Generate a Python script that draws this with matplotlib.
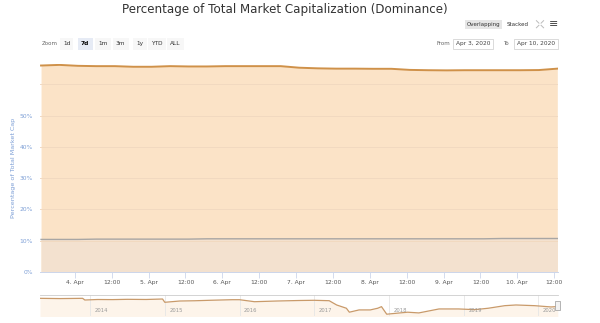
import pandas as pd
import matplotlib
matplotlib.use("Agg")
from matplotlib import pyplot as plt
from matplotlib.patches import Rectangle
from matplotlib.lines import Line2D

plt.rcParams['font.family'] = ['DejaVu Sans']

# main chart: 6-hourly dominance, Apr 3 13:00 .. Apr 10 13:00
times = pd.date_range('2020-04-03 13:00', periods=29, freq='6h')
btc = [66.0, 66.2, 65.9, 65.8, 65.8, 65.6, 65.6, 65.8, 65.7, 65.7,
       65.8, 65.8, 65.8, 65.8, 65.3, 65.1, 65.0, 65.0, 64.95, 64.95,
       64.6, 64.5, 64.45, 64.5, 64.5, 64.5, 64.5, 64.55, 65.0]
eth = [10.4, 10.4, 10.4, 10.5, 10.5, 10.5, 10.5, 10.5, 10.5, 10.6,
       10.6, 10.6, 10.6, 10.6, 10.6, 10.6, 10.6, 10.6, 10.6, 10.6,
       10.6, 10.6, 10.6, 10.6, 10.6, 10.7, 10.7, 10.7, 10.7]
y_ticks = [0, 10, 20, 30, 40, 50]

# navigator: whole history (decimal years)
nav_years = [2013.33, 2013.6, 2013.9, 2013.93, 2014.1, 2014.3, 2014.5, 2014.75, 2014.97,
             2015.0, 2015.2, 2015.4, 2015.6, 2015.9, 2016.0, 2016.2, 2016.5, 2016.8,
             2017.0, 2017.2, 2017.3, 2017.43, 2017.47, 2017.6, 2017.75, 2017.85,
             2017.9, 2017.97, 2018.05, 2018.25, 2018.4, 2018.67, 2018.93, 2019.15,
             2019.33, 2019.55, 2019.7, 2019.95, 2020.17, 2020.26]
nav_dom = [95.0, 94.0, 95.0, 88.4, 90.4, 90.0, 91.1, 90.5, 92.3,
           79.5, 84.5, 85.5, 87.3, 89.6, 89.6, 81.8, 84.5, 86.5,
           87.3, 85.7, 69.0, 56.3, 40.8, 49.7, 49.7, 56.3,
           62.5, 33.0, 35.3, 40.8, 38.0, 53.5, 53.5, 50.8,
           56.3, 66.3, 69.0, 66.3, 61.3, 63.0]
nav_ticks = [2014, 2015, 2016, 2017, 2018, 2019, 2020]

fig = plt.figure(figsize=(6, 3.23), dpi=100)

ax = fig.add_axes([0.0667, 0.158, 0.863, 0.644])
ax.fill_between(times, btc, color='#fbe3c7', lw=0, zorder=1)
ax.fill_between(times, eth, color='#f3e1cf', lw=0, zorder=1.1)
for v in y_ticks[1:] + [60]:
    ax.axhline(v, color='#f1d9c0', lw=0.7, zorder=1.5)
ax.plot(times, btc, color='#cf9149', lw=1.4, zorder=3)
ax.plot(times, eth, color='#a8a6a4', lw=1.0, zorder=3)

ax.set_ylim(0, 66.5)
ax.set_xlim(pd.Timestamp('2020-04-03 12:40'), pd.Timestamp('2020-04-10 13:10'))
ax.set_yticks(y_ticks)
ax.set_yticklabels([f'{v}%' for v in y_ticks])
xt = pd.date_range('2020-04-04 00:00', '2020-04-10 12:00', freq='12h')
ax.set_xticks(xt)
ax.set_xticklabels([f'{t.day}. Apr' if t.hour == 0 else '12:00' for t in xt])
for s in ['top', 'right', 'left']:
    ax.spines[s].set_visible(False)
ax.spines['bottom'].set_color('#ccd6eb')
ax.spines['bottom'].set_linewidth(0.7)
ax.tick_params(axis='y', length=0, labelsize=4.3, labelcolor='#7d9fd6', pad=5)
ax.tick_params(axis='x', length=4, width=0.6, color='#ccd6eb', labelsize=4.3,
               labelcolor='#555555', pad=2)
ax.set_ylabel('Percentage of Total Market Cap', fontsize=4.6, color='#7d9fd6', labelpad=3)

# navigator
nav = fig.add_axes([0.0667, 0.0217, 0.863, 0.065])
nav.fill_between(nav_years, nav_dom, 0, color='#fdf4ea', lw=0)
nav.plot(nav_years, nav_dom, color='#c99a6a', lw=0.9)
nav.set_xlim(2013.33, 2020.26)
nav.set_ylim(26, 108)
nav.set_xticks(nav_ticks)
nav.set_xticklabels([])
nav.tick_params(length=0)
nav.set_yticks([])
nav.grid(axis='x', color='#e6e6e6', lw=0.6)
for yr in nav_ticks:
    nav.text(yr + 0.06, 0.12, str(yr), transform=nav.get_xaxis_transform(),
             fontsize=3.8, color='#999999', ha='left', va='bottom')
for s in ['right', 'left', 'bottom']:
    nav.spines[s].set_visible(False)
nav.spines['top'].set_color('#cccccc')
nav.spines['top'].set_linewidth(0.6)
nav.add_patch(Rectangle((0.994, 0.3), 0.01, 0.42, transform=nav.transAxes,
                        fc='#f2f2f2', ec='#999999', lw=0.5, clip_on=False, zorder=5))

# title and controls
fig.text(0.475, 0.972, 'Percentage of Total Market Capitalization (Dominance)',
         ha='center', va='center', fontsize=8.6, color='#333333')
fig.text(0.069, 0.864, 'Zoom', fontsize=4, color='#666666', va='center')
btns = ['1d', '7d', '1m', '3m', '1y', 'YTD', 'ALL']
bx = [0.111, 0.142, 0.172, 0.201, 0.233, 0.262, 0.292]
for b, x in zip(btns, bx):
    sel = b == '7d'
    fig.text(x, 0.864, b, fontsize=4.2, ha='center', va='center',
             color='#000000' if sel else '#333333', weight='bold' if sel else 'normal',
             bbox=dict(boxstyle='square,pad=0.55', fc='#e6ebf5' if sel else '#f7f7f7', ec='none'))
fig.text(0.806, 0.925, 'Overlapping', fontsize=4, ha='center', va='center', color='#333333',
         bbox=dict(boxstyle='square,pad=0.35', fc='#e6e6e6', ec='none'))
fig.text(0.862, 0.925, 'Stacked', fontsize=4, ha='center', va='center', color='#333333')
# fullscreen icon: four small corner ticks
cx, cy, dx, dy = 0.9, 0.925, 0.006, 0.011
for sx in (-1, 1):
    for sy in (-1, 1):
        fig.add_artist(Line2D([cx + sx * dx * 0.3, cx + sx * dx], [cy + sy * dy * 0.3, cy + sy * dy],
                              color='#bbbbbb', lw=0.7, transform=fig.transFigure))
fig.text(0.922, 0.925, '≡', fontsize=8, ha='center', va='center', color='#444444')
fig.text(0.727, 0.864, 'From', fontsize=4, ha='left', va='center', color='#666666')
fig.text(0.788, 0.864, 'Apr 3, 2020', fontsize=4.2, ha='center', va='center', color='#444444',
         bbox=dict(boxstyle='square,pad=0.5', fc='white', ec='#cccccc', lw=0.5))
fig.text(0.838, 0.864, 'To', fontsize=4, ha='left', va='center', color='#666666')
fig.text(0.893, 0.864, 'Apr 10, 2020', fontsize=4.2, ha='center', va='center', color='#444444',
         bbox=dict(boxstyle='square,pad=0.5', fc='white', ec='#cccccc', lw=0.5))

fig.savefig('out.png', dpi=100)
